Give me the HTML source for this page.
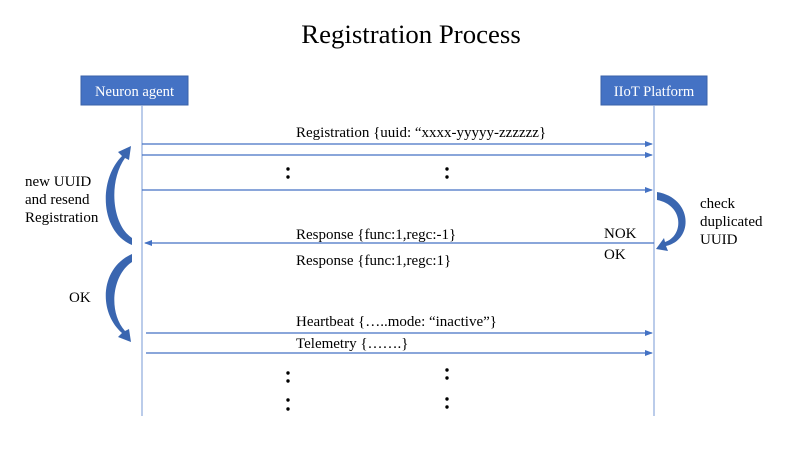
<!DOCTYPE html>
<html><head><meta charset="utf-8"><style>
body{margin:0;width:800px;height:450px;background:#fff;overflow:hidden}
svg text{font-family:"Liberation Serif",serif;fill:#000}
</style></head><body>
<svg width="800" height="450" viewBox="0 0 800 450" xmlns="http://www.w3.org/2000/svg">
<defs>
<marker id="a" markerWidth="8" markerHeight="6" refX="7" refY="3" orient="auto" markerUnits="userSpaceOnUse"><path d="M0,0 L8,3 L0,6 z" fill="#4472c4"/></marker>
</defs>
<text x="411" y="43" font-size="26.8" text-anchor="middle">Registration Process</text>
<rect x="81" y="76" width="107" height="29" fill="#4472c4" stroke="#3a62a8"/>
<text x="134.5" y="96" font-size="14.6" text-anchor="middle" style="fill:#fff">Neuron agent</text>
<rect x="601" y="76" width="106" height="29" fill="#4472c4" stroke="#3a62a8"/>
<text x="654" y="96" font-size="14.6" text-anchor="middle" style="fill:#fff">IIoT Platform</text>
<line x1="142" y1="105" x2="142" y2="416" stroke="#8eaadb" stroke-width="1.2"/>
<line x1="654" y1="105" x2="654" y2="416" stroke="#8eaadb" stroke-width="1.2"/>
<g stroke="#4472c4" stroke-width="1.3" marker-end="url(#a)">
<line x1="142" y1="144" x2="652" y2="144"/>
<line x1="142" y1="155" x2="652" y2="155"/>
<line x1="142" y1="190" x2="652" y2="190"/>
<line x1="654" y1="243" x2="145" y2="243"/>
<line x1="146" y1="333" x2="652" y2="333"/>
<line x1="146" y1="353" x2="652" y2="353"/>
</g>
<g font-size="15">
<text x="296" y="137">Registration {uuid: “xxxx-yyyyy-zzzzzz}</text>
<text x="296" y="239">Response {func:1,regc:-1}</text>
<text x="296" y="265">Response {func:1,regc:1}</text>
<text x="296" y="326">Heartbeat {…..mode: “inactive”}</text>
<text x="296" y="348">Telemetry {…….}</text>
<text x="604" y="238">NOK</text>
<text x="604" y="259">OK</text>
<text x="25" y="186">new UUID</text>
<text x="25" y="204">and resend</text>
<text x="25" y="222">Registration</text>
<text x="69" y="302">OK</text>
<text x="700" y="208">check</text>
<text x="700" y="226">duplicated</text>
<text x="700" y="244">UUID</text>
</g>
<g fill="#000">
<circle cx="288" cy="169" r="1.7"/><circle cx="288" cy="177" r="1.7"/>
<circle cx="447" cy="169" r="1.7"/><circle cx="447" cy="177" r="1.7"/>
<circle cx="288" cy="373" r="1.7"/><circle cx="288" cy="381" r="1.7"/>
<circle cx="288" cy="400" r="1.7"/><circle cx="288" cy="409" r="1.7"/>
<circle cx="447" cy="370" r="1.7"/><circle cx="447" cy="378" r="1.7"/>
<circle cx="447" cy="399" r="1.7"/><circle cx="447" cy="407" r="1.7"/>
</g>
<g fill="#3a66b0">
<path d="M132,245 C100,232 98,180 122,156 L118,152 L131,146 L129,160 L125,158 C108,182 112,225 132,238 z"/>
<path d="M132,254 C100,268 98,312 122,333 L118,337 L131,342 L129,329 L125,331 C108,312 112,275 132,262 z"/>
<path d="M657,192 C693,198 694,240 666,246 L668,251 L656,249 L664,238 L665,242 C684,236 684,205 657,200 z"/>
</g>
</svg>
</body></html>
